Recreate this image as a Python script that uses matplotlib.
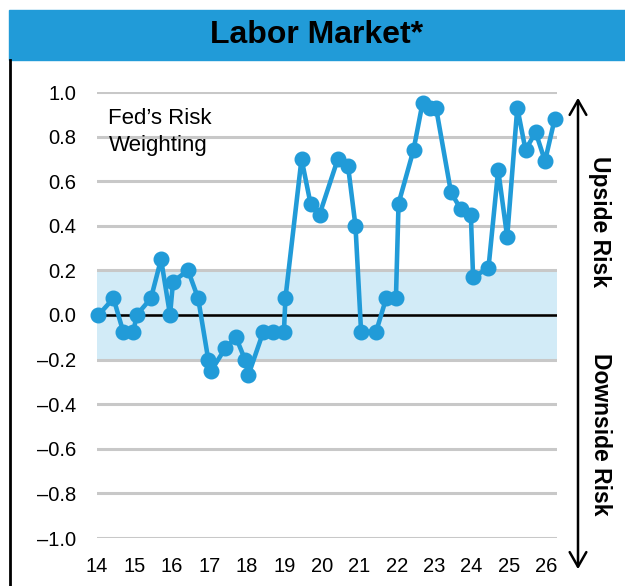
import matplotlib
matplotlib.use("Agg")
import matplotlib.pyplot as plt
from matplotlib import font_manager
from matplotlib.patches import Rectangle, FancyArrowPatch
from matplotlib.lines import Line2D

# data (decimal year, risk weighting)
years = [14.04, 14.44, 14.70, 14.97, 15.06, 15.44, 15.71, 15.95, 16.03, 16.43,
         16.70, 16.97, 17.05, 17.42, 17.71, 17.95, 18.04, 18.44, 18.70, 18.99,
         19.03, 19.46, 19.70, 19.94, 20.43, 20.70, 20.90, 21.05, 21.45, 21.72,
         21.98, 22.05, 22.45, 22.69, 22.89, 23.05, 23.45, 23.71, 23.98, 24.04,
         24.45, 24.71, 24.95, 25.22, 25.44, 25.71, 25.96, 26.22]
weights = [0, 0.075, -0.075, -0.075, 0, 0.075, 0.25, 0, 0.15, 0.2,
           0.075, -0.2, -0.25, -0.15, -0.1, -0.2, -0.27, -0.075, -0.075, -0.075,
           0.075, 0.7, 0.5, 0.45, 0.7, 0.67, 0.4, -0.075, -0.075, 0.075,
           0.075, 0.5, 0.74, 0.95, 0.93, 0.93, 0.55, 0.475, 0.45, 0.17,
           0.21, 0.65, 0.35, 0.93, 0.74, 0.82, 0.69, 0.88]
x_ticks = list(range(14, 27))
x_labels = [str(t) for t in x_ticks]
y_ticks = [-1.0, -0.8, -0.6, -0.4, -0.2, 0.0, 0.2, 0.4, 0.6, 0.8, 1.0]
band = (-0.2, 0.2)

installed = {f.name for f in font_manager.fontManager.ttflist}
narrow = "Liberation Sans Narrow" if "Liberation Sans Narrow" in installed else "Liberation Sans"
plt.rcParams["font.family"] = ["Liberation Sans", "DejaVu Sans"]

BLUE = "#219bd8"

fig = plt.figure(figsize=(6.25, 5.86), dpi=100)
ax = fig.add_axes([97 / 625, 1 - 538 / 586, 460 / 625, 446 / 586])

ax.axhspan(band[0], band[1], color="#d2ebf7", zorder=0)
for t in y_ticks:
    ax.axhline(t, color="#c8c8c8", lw=2.2, zorder=1)
ax.axhline(0, color="black", lw=1.8, zorder=2)
ax.plot(years, weights, color=BLUE, lw=3.3, marker="o", markersize=10.5,
        zorder=3, clip_on=False)

ax.set_xlim(14, 26.28)
ax.set_ylim(-1, 1)
ax.set_xticks(x_ticks)
ax.set_xticklabels(x_labels)
ax.set_yticks(y_ticks)
ax.set_yticklabels([f"{t:.1f}".replace("-", "\u2013") for t in y_ticks])
ax.tick_params(length=0, labelsize=14.5)
ax.tick_params(axis="x", pad=14)
ax.tick_params(axis="y", pad=15)
for s in ax.spines.values():
    s.set_visible(False)

ax.text(0.025, 0.965, "Fed\u2019s Risk\nWeighting", transform=ax.transAxes,
        fontsize=16, va="top", ha="left", linespacing=1.4)

# title bar and left frame
fig.patches.append(Rectangle((9 / 625, 1 - 60 / 586), 1, 50 / 586,
                             transform=fig.transFigure, color=BLUE, zorder=0))
fig.text(317 / 625, 1 - 35 / 586, "Labor Market*", ha="center", va="center",
         fontsize=23, fontweight="bold", family=[narrow, "DejaVu Sans"])
fig.lines.append(Line2D([10 / 625, 10 / 625], [0, 1 - 60 / 586],
                        transform=fig.transFigure, color="black", lw=2))

# risk arrow on the right
fig.patches.append(FancyArrowPatch((578 / 625, 1 - 572 / 586), (578 / 625, 1 - 95 / 586),
                                   transform=fig.transFigure, arrowstyle="<->,head_length=7,head_width=4",
                                   color="black", lw=1.8, mutation_scale=1.5))
fig.text(600 / 625, 1 - 222 / 586, "Upside Risk", rotation=-90, ha="center",
         va="center", fontsize=16.5, fontweight="bold")
fig.text(600 / 625, 1 - 434 / 586, "Downside Risk", rotation=-90, ha="center",
         va="center", fontsize=16.5, fontweight="bold")

fig.savefig("out.png", dpi=100)
